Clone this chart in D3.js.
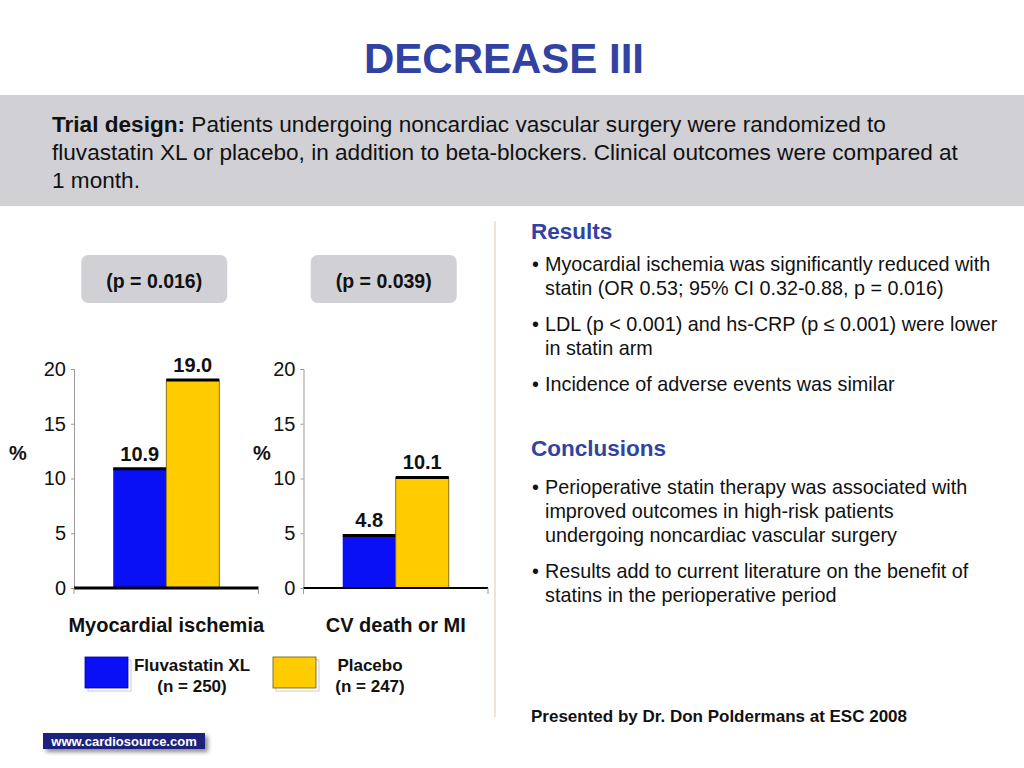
<!DOCTYPE html>
<html>
<head>
<meta charset="utf-8">
<script src="https://cdn.jsdelivr.net/npm/d3@7"></script>
<style>
  html, body { margin: 0; padding: 0; background: #fff; }
  svg { display: block; font-family: "Liberation Sans", Arial, Helvetica, sans-serif; }
</style>
</head>
<body>
<svg id="chart" width="1024" height="768"></svg>
<script>
// ---- data ----
const categories = ["Myocardial ischemia", "CV death or MI"];
const seriesNames = ["Fluvastatin XL", "Placebo"];
const seriesN = ["(n = 250)", "(n = 247)"];
const fluvastatin = [10.9, 4.8];
const placebo = [19.0, 10.1];
const pValues = ["(p = 0.016)", "(p = 0.039)"];
const yTicks = [0, 5, 10, 15, 20];
const seriesColors = ["#0A10F5", "#FFCC00"];

const title = "DECREASE III";
const designLines = [
  ["Trial design:", " Patients undergoing noncardiac vascular surgery were randomized to"],
  ["", "fluvastatin XL or placebo, in addition to beta-blockers. Clinical outcomes were compared at"],
  ["", "1 month."]
];
const resultsLines = [
  ["•", "Myocardial ischemia was significantly reduced with"],
  ["", "statin (OR 0.53; 95% CI 0.32-0.88, p = 0.016)"],
  ["•", "LDL (p < 0.001) and hs-CRP (p \u2264 0.001) were lower"],
  ["", "in statin arm"],
  ["•", "Incidence of adverse events was similar"]
];
const conclusionLines = [
  ["•", "Perioperative statin therapy was associated with"],
  ["", "improved outcomes in high-risk patients"],
  ["", "undergoing noncardiac vascular surgery"],
  ["•", "Results add to current literature on the benefit of"],
  ["", "statins in the perioperative period"]
];
const presenter = "Presented by Dr. Don Poldermans at ESC 2008";
const footer = "www.cardiosource.com";

const values = [fluvastatin, placebo];

const svg = d3.select("#chart");
const blueTitle = "#3142A2";

// ---- title ----
svg.append("text").attr("x", 504).attr("y", 73).attr("text-anchor", "middle")
  .attr("font-size", 42).attr("font-weight", "bold").attr("fill", blueTitle).text(title);

// ---- design band ----
svg.append("rect").attr("x", 0).attr("y", 95).attr("width", 1024).attr("height", 111).attr("fill", "#D0D0D5");
designLines.forEach((l, i) => {
  const t = svg.append("text").attr("x", 52).attr("y", 132 + i * 28).attr("font-size", 22.6).attr("fill", "#111");
  if (l[0]) t.append("tspan").attr("font-weight", "bold").text(l[0]);
  t.append("tspan").text(l[1]);
});

// separator
svg.append("line").attr("x1", 495).attr("x2", 495).attr("y1", 221).attr("y2", 717)
  .attr("stroke", "#EDE6D2").attr("stroke-width", 2);

// ---- charts ----
const panel = d3.scaleBand().domain(categories).range([74, 488]).paddingInner(0.196);
const inner = d3.scaleBand().domain(seriesNames).range([0, panel.bandwidth()]).paddingInner(0).paddingOuter(0.74);
const y = d3.scaleLinear().domain([0, 20]).range([588, 369]);
const percentX = [18, 262];

categories.forEach((cat, ci) => {
  const x0 = panel(cat);
  const g = svg.append("g").attr("transform", `translate(${x0},0)`);

  // y axis
  const ax = g.append("g").call(d3.axisLeft(y).tickValues(yTicks).tickSize(3).tickPadding(5).tickFormat(d3.format("d")));
  ax.select(".domain").attr("stroke", "#999").attr("stroke-width", 1);
  ax.selectAll(".tick line").attr("stroke", "#999");
  ax.selectAll(".tick text").attr("font-size", 20).attr("fill", "#111")
    .attr("font-family", "'Liberation Sans', Arial, sans-serif");

  // bars
  seriesNames.forEach((s, si) => {
    const v = values[si][ci];
    const bx = inner(s);
    g.append("rect").attr("x", bx).attr("y", y(v)).attr("width", inner.bandwidth()).attr("height", y(0) - y(v))
      .attr("fill", seriesColors[si]).attr("stroke", si === 1 ? "#6b5500" : "none").attr("stroke-width", 0.8);
    g.append("line").attr("x1", bx).attr("x2", bx + inner.bandwidth()).attr("y1", y(v)).attr("y2", y(v))
      .attr("stroke", "#000").attr("stroke-width", 3);
    g.append("text").attr("x", bx + inner.bandwidth() / 2).attr("y", y(v) - 8).attr("text-anchor", "middle")
      .attr("font-size", 20).attr("font-weight", "bold").attr("fill", "#111").text(v.toFixed(1));
  });

  // baseline
  g.append("line").attr("x1", 0).attr("x2", panel.bandwidth()).attr("y1", y(0)).attr("y2", y(0))
    .attr("stroke", "#000").attr("stroke-width", ci === 0 ? 3 : 2);
  g.append("line").attr("x1", panel.bandwidth()).attr("x2", panel.bandwidth()).attr("y1", y(0)).attr("y2", y(0) + 6)
    .attr("stroke", "#999").attr("stroke-width", 1);
  g.append("line").attr("x1", 0).attr("x2", 0).attr("y1", y(0)).attr("y2", y(0) + 6)
    .attr("stroke", "#999").attr("stroke-width", 1);

  // % label
  g.append("text").attr("x", percentX[ci] - x0).attr("y", 460).attr("text-anchor", "middle")
    .attr("font-size", 20).attr("font-weight", "bold").attr("fill", "#111").text("%");

  // category label
  g.append("text").attr("x", panel.bandwidth() / 2).attr("y", 632).attr("text-anchor", "middle")
    .attr("font-size", 20).attr("font-weight", "bold").attr("fill", "#111").text(cat);

  // p-value box
  const cx = panel.bandwidth() / 2 - 12;
  g.append("rect").attr("x", cx - 73).attr("y", 255).attr("width", 146).attr("height", 48).attr("rx", 7)
    .attr("fill", "#D0D0D5");
  g.append("text").attr("x", cx).attr("y", 288).attr("text-anchor", "middle")
    .attr("font-size", 19.5).attr("font-weight", "bold").attr("fill", "#111").text(pValues[ci]);
});

// ---- legend ----
const legendX = [85, 273];
const legendTextX = [192, 370];
seriesNames.forEach((s, si) => {
  const lx = legendX[si];
  svg.append("rect").attr("x", lx + 3).attr("y", 660).attr("width", 43).attr("height", 31)
    .attr("fill", "#fff").attr("stroke", "#ccc").attr("stroke-width", 1);
  svg.append("rect").attr("x", lx).attr("y", 657).attr("width", 43).attr("height", 31)
    .attr("fill", seriesColors[si]).attr("stroke", si === 1 ? "#6b5500" : "#0000aa").attr("stroke-width", 0.8);
  svg.append("text").attr("x", legendTextX[si]).attr("y", 671).attr("text-anchor", "middle")
    .attr("font-size", 17).attr("font-weight", "bold").attr("fill", "#111").text(s);
  svg.append("text").attr("x", legendTextX[si]).attr("y", 692).attr("text-anchor", "middle")
    .attr("font-size", 17).attr("font-weight", "bold").attr("fill", "#111").text(seriesN[si]);
});

// ---- right column ----
function bulletBlock(lines, y0) {
  let yy = y0;
  lines.forEach((l, i) => {
    if (i > 0) yy += (l[0] ? 36 : 24);
    if (l[0]) svg.append("text").attr("x", 532).attr("y", yy).attr("font-size", 19.8).attr("fill", "#111").text(l[0]);
    svg.append("text").attr("x", 545).attr("y", yy).attr("font-size", 19.8).attr("fill", "#111").text(l[1]);
  });
}
svg.append("text").attr("x", 531).attr("y", 239).attr("font-size", 22.5).attr("font-weight", "bold")
  .attr("fill", blueTitle).text("Results");
bulletBlock(resultsLines, 271);
svg.append("text").attr("x", 531).attr("y", 456).attr("font-size", 22.5).attr("font-weight", "bold")
  .attr("fill", blueTitle).text("Conclusions");
bulletBlock(conclusionLines, 494);
svg.append("text").attr("x", 531).attr("y", 722).attr("font-size", 17).attr("font-weight", "bold")
  .attr("fill", "#111").text(presenter);

// ---- footer ----
const defs = svg.append("defs");
const f = defs.append("filter").attr("id", "sh").attr("x", "-20%").attr("y", "-50%").attr("width", "140%").attr("height", "250%");
f.append("feGaussianBlur").attr("in", "SourceAlpha").attr("stdDeviation", 2);
f.append("feOffset").attr("dx", 3).attr("dy", 3).attr("result", "b");
f.append("feFlood").attr("flood-color", "#000").attr("flood-opacity", 0.45);
f.append("feComposite").attr("in2", "b").attr("operator", "in");
const m = f.append("feMerge");
m.append("feMergeNode");
m.append("feMergeNode").attr("in", "SourceGraphic");
svg.append("rect").attr("x", 43).attr("y", 733).attr("width", 162).attr("height", 16)
  .attr("fill", "#1B237A").attr("filter", "url(#sh)");
svg.append("text").attr("x", 124).attr("y", 745.5).attr("text-anchor", "middle")
  .attr("font-size", 13).attr("font-weight", "bold").attr("fill", "#fff").text(footer);
</script>
</body>
</html>
